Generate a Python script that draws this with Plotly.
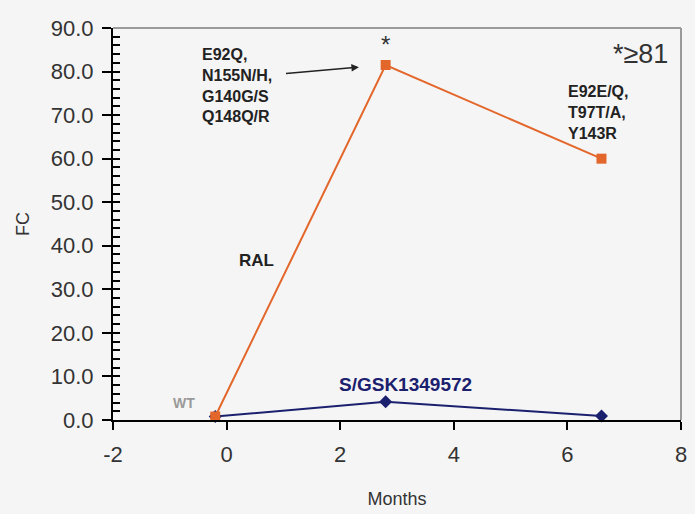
import plotly.graph_objects as go

months_ral = [-0.2, 2.8, 6.6]
fc_ral = [0.8, 81.5, 60.0]
months_gsk = [-0.2, 2.8, 6.6]
fc_gsk = [0.8, 4.2, 0.9]
x_ticks = [-2, 0, 2, 4, 6, 8]
x_labels = ["-2", "0", "2", "4", "6", "8"]
y_ticks = [0, 10, 20, 30, 40, 50, 60, 70, 80, 90]
y_minor = list(range(0, 91, 2))

ORANGE = "#e3672b"
NAVY = "#1b206e"
FONT = "Liberation Sans, Arial, sans-serif"

fig = go.Figure()
fig.add_trace(go.Scatter(x=months_gsk, y=fc_gsk, mode="lines+markers",
                         line=dict(color=NAVY, width=2),
                         marker=dict(symbol="diamond", size=10, color=NAVY),
                         showlegend=False, cliponaxis=False))
fig.add_trace(go.Scatter(x=months_ral, y=fc_ral, mode="lines+markers",
                         line=dict(color=ORANGE, width=2),
                         marker=dict(symbol="square", size=10, color=ORANGE),
                         showlegend=False, cliponaxis=False))
fig.add_trace(go.Scatter(x=[None], y=[None], yaxis="y2", showlegend=False))

fig.update_layout(
    width=695, height=514,
    margin=dict(l=113, r=8, t=28, b=94),
    paper_bgcolor="#f5f5f5", plot_bgcolor="#f5f5f5",
    font=dict(family=FONT, color="#222222"),
    xaxis=dict(range=[-2, 8], tickvals=x_ticks, ticktext=x_labels, ticks="outside",
               ticklen=8, tickcolor="black", tickwidth=2, showline=True,
               linecolor="black", linewidth=2, showgrid=False, zeroline=False,
               ticklabelstandoff=6,
               tickfont=dict(size=22, family=FONT, color="#333"),
               title=dict(text="Months", font=dict(size=18, family=FONT, color="#333"),
                          standoff=26)),
    yaxis=dict(range=[0, 90], tickvals=y_ticks, tickformat=".1f", ticks="outside",
               ticklen=9, tickcolor="black", tickwidth=2, showline=True,
               linecolor="black", linewidth=2, showgrid=False, zeroline=False,
               ticklabelstandoff=4,
               tickfont=dict(size=22, family=FONT, color="#333"),
               title=dict(text="FC", font=dict(size=18, family=FONT, color="#333"),
                          standoff=16)),
    yaxis2=dict(range=[0, 90], overlaying="y", side="left", tickvals=y_minor,
                ticks="inside", ticklen=7, tickcolor="black", tickwidth=1.5,
                showticklabels=False, showgrid=False, zeroline=False, showline=False),
    shapes=[dict(type="line", xref="paper", yref="paper", x0=0, y0=1, x1=1, y1=1,
                 line=dict(color="#9a9a9a", width=2)),
            dict(type="line", xref="paper", yref="paper", x0=1, y0=0, x1=1, y1=1,
                 line=dict(color="#9a9a9a", width=2))],
)

ann_font = dict(family=FONT, size=16, color="#222")
fig.add_annotation(x=-0.47, y=76.7, xref="x", yref="y",
                   text="<b>E92Q,<br>N155N/H,<br>G140G/S<br>Q148Q/R</b>",
                   showarrow=False, align="left", xanchor="left", yanchor="middle",
                   font=ann_font)
fig.add_annotation(x=2.33, y=81.0, ax=1.02, ay=79.5, xref="x", yref="y",
                   axref="x", ayref="y", text="", showarrow=True, arrowhead=2,
                   arrowsize=1, arrowwidth=1.5, arrowcolor="#222")
fig.add_annotation(x=2.8, y=86.3, xref="x", yref="y", text="*", showarrow=False,
                   font=dict(family=FONT, size=24, color="#333"))
fig.add_annotation(x=7.8, y=84.0, xref="x", yref="y", text="*≥81", showarrow=False,
                   xanchor="right", font=dict(family=FONT, size=27, color="#333"))
fig.add_annotation(x=5.98, y=70.5, xref="x", yref="y",
                   text="<b>E92E/Q,<br>T97T/A,<br>Y143R</b>", showarrow=False,
                   align="left", xanchor="left", yanchor="middle", font=ann_font)
fig.add_annotation(x=0.52, y=36.6, xref="x", yref="y", text="<b>RAL</b>",
                   showarrow=False, font=dict(family=FONT, size=17, color="#222"))
fig.add_annotation(x=-0.75, y=3.9, xref="x", yref="y", text="<b>WT</b>",
                   showarrow=False, font=dict(family=FONT, size=14, color="#999"))
fig.add_annotation(x=3.15, y=8.1, xref="x", yref="y", text="<b>S/GSK1349572</b>",
                   showarrow=False, font=dict(family=FONT, size=19, color=NAVY))

fig.write_html("out.html")
